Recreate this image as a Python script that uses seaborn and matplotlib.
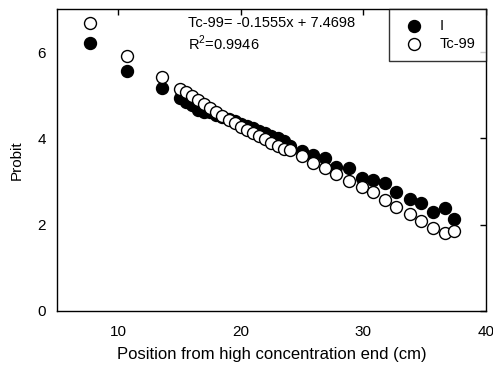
import matplotlib
matplotlib.use("Agg")
import matplotlib.pyplot as plt
import seaborn as sns
import pandas as pd

# Data
position = [7.7, 10.7, 13.6,
            15.0, 15.5, 16.0, 16.5, 17.0, 17.5, 18.0, 18.5, 19.0, 19.5,
            20.0, 20.5, 21.0, 21.5, 22.0, 22.5, 23.0, 23.5, 24.0,
            25.0, 25.9, 26.9, 27.8, 28.8, 29.9, 30.8, 31.8, 32.7, 33.8,
            34.7, 35.7, 36.7, 37.4]
probit_I = [6.20, 5.56, 5.17,
            4.93, 4.85, 4.78, 4.65, 4.62, 4.60, 4.55, 4.50, 4.44, 4.40,
            4.33, 4.28, 4.23, 4.17, 4.12, 4.06, 4.00, 3.94, 3.82,
            3.70, 3.62, 3.55, 3.34, 3.32, 3.09, 3.04, 2.97, 2.76, 2.60,
            2.51, 2.30, 2.39, 2.13]
probit_Tc = [6.68, 5.90, 5.43,
             5.15, 5.08, 4.99, 4.90, 4.80, 4.71, 4.62, 4.52, 4.43, 4.36,
             4.27, 4.20, 4.13, 4.06, 3.99, 3.90, 3.83, 3.76, 3.72,
             3.60, 3.43, 3.32, 3.18, 3.02, 2.88, 2.76, 2.58, 2.41, 2.25,
             2.09, 1.93, 1.81, 1.86]
series_names = ["I", "Tc-99"]
x_ticks = [10, 20, 30, 40]
y_ticks = [0, 2, 4, 6]
equation_text = "Tc-99= -0.1555x + 7.4698"
r2_text = "R$^2$=0.9946"

sns.set_style("white")
plt.rcParams["font.family"] = ["Liberation Sans", "DejaVu Sans"]
plt.rcParams["text.color"] = "black"
plt.rcParams["axes.labelcolor"] = "black"
plt.rcParams["xtick.color"] = "black"
plt.rcParams["ytick.color"] = "black"
plt.rcParams["mathtext.fontset"] = "custom"
plt.rcParams["mathtext.rm"] = "Liberation Sans"

fig = plt.figure(figsize=(4.93, 3.72), dpi=100)
ax = fig.add_axes([0.1156, 0.164, 0.870, 0.812])

df_I = pd.DataFrame({"x": position, "y": probit_I})
df_Tc = pd.DataFrame({"x": position, "y": probit_Tc})

sns.scatterplot(data=df_I, x="x", y="y", ax=ax, s=74, color="black",
                edgecolor="black", linewidth=1.0, label=series_names[0], zorder=2)
sns.scatterplot(data=df_Tc, x="x", y="y", ax=ax, s=74, color="white",
                edgecolor="black", linewidth=1.0, label=series_names[1], zorder=3)

ax.set_xlim(5, 40)
ax.set_ylim(0, 7)
ax.set_xticks(x_ticks)
ax.set_yticks(y_ticks)
ax.tick_params(direction="in", length=4, width=1, top=True, right=True,
               labelsize=11, colors="black", pad=8)
ax.tick_params(axis="x", pad=10)
for sp in ax.spines.values():
    sp.set_visible(True)
    sp.set_color("black")
    sp.set_linewidth(1.0)

ax.set_xlabel("Position from high concentration end (cm)", fontsize=12, labelpad=6)
ax.set_ylabel("Probit", fontsize=11, labelpad=10)

ax.text(0.306, 0.978, equation_text, transform=ax.transAxes, fontsize=10.5,
        va="top", ha="left")
ax.text(0.306, 0.918, r2_text, transform=ax.transAxes, fontsize=10.5,
        va="top", ha="left")

leg = ax.legend(loc="upper right", frameon=True, fancybox=False, fontsize=10.5,
                borderaxespad=0, handletextpad=0.8, borderpad=0.7,
                labelspacing=0.25, markerscale=1.0)
leg.get_frame().set_edgecolor("black")
leg.get_frame().set_linewidth(1.0)

fig.savefig("out.png", dpi=100)
